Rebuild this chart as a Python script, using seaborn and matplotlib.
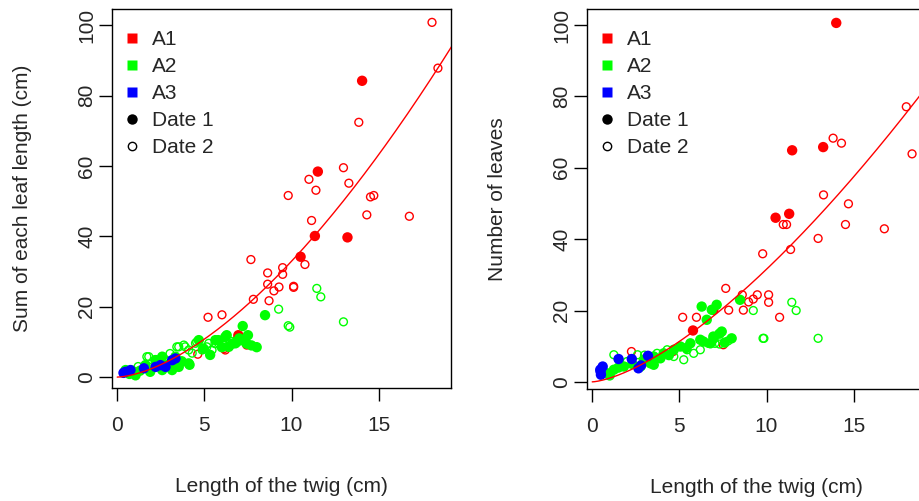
import numpy as np
import pandas as pd
import matplotlib
matplotlib.use("Agg")
import matplotlib.pyplot as plt
import seaborn as sns
from matplotlib.lines import Line2D

sns.set_style("ticks")
plt.rcParams["font.family"] = ["Liberation Sans", "DejaVu Sans"]

PALETTE = {"A1": "#FF0000", "A2": "#00FF00", "A3": "#0000FF"}
X_TICKS = [0, 5, 10, 15]
Y_TICKS = [0, 20, 40, 60, 80, 100]
X_LABEL = "Length of the twig (cm)"
Y_LABEL_LEFT = "Sum of each leaf length (cm)"
Y_LABEL_RIGHT = "Number of leaves"

# fitted power curves y = a * x^b
FIT_LEFT = (0.81, 1.609)
FIT_RIGHT = (1.05, 1.478)

# ---------------- left panel data ----------------
left_A1_d1 = [(14.05, 84.2), (11.51, 58.4), (11.34, 40.1), (13.21, 39.7), (10.52, 34.2), (6.95, 11.9)]
left_A1_d2 = [(18.06, 100.8), (18.4, 87.8), (13.86, 72.4), (12.98, 59.5), (11.0, 56.2), (13.29, 55.1),
              (11.4, 53.1), (9.81, 51.6), (14.53, 51.2), (14.72, 51.6), (14.32, 46.1), (16.76, 45.7),
              (11.15, 44.5), (10.77, 32.0), (7.67, 33.4), (8.63, 29.6), (9.49, 31.1), (9.49, 29.2),
              (8.63, 26.4), (9.28, 25.6), (8.99, 24.5), (10.12, 25.8), (10.12, 25.5), (7.81, 22.1),
              (8.71, 21.7), (5.21, 17.0), (6.01, 17.7), (7.43, 9.1), (6.13, 8.1), (4.62, 6.5), (6.2, 7.7)]
left_A2_d1 = [(0.48, 2.0), (0.7, 0.9), (1.05, 0.5), (1.3, 1.8), (1.62, 3.4), (1.89, 1.5), (2.19, 4.8),
              (2.58, 2.0), (2.58, 5.8), (2.9, 3.5), (3.11, 2.5), (3.15, 2.0), (3.34, 5.8), (3.53, 2.9),
              (3.7, 4.5), (4.1, 3.9), (4.15, 3.5), (4.68, 10.5), (4.95, 8.1), (5.33, 6.3), (5.63, 10.5),
              (5.8, 10.5), (6.0, 8.5), (6.2, 11.4), (6.28, 11.9), (6.4, 8.6), (6.6, 9.5), (6.78, 9.6),
              (6.85, 10.0), (7.0, 11.0), (7.2, 14.5), (7.3, 10.5), (7.43, 9.5), (7.5, 11.9), (7.7, 9.0),
              (8.0, 8.5), (8.48, 17.6)]
left_A2_d2 = [(11.45, 25.2), (11.68, 22.8), (9.26, 19.3), (9.81, 14.6), (9.9, 14.2), (12.98, 15.7),
              (0.86, 2.0), (1.2, 3.0), (1.7, 5.8), (1.81, 2.9), (1.81, 5.8), (2.39, 3.9), (2.2, 5.0),
              (3.03, 6.7), (3.42, 8.6), (3.53, 8.6), (3.82, 9.1), (3.9, 8.6), (4.1, 7.7), (4.49, 9.6),
              (4.56, 10.0), (4.87, 7.7), (5.14, 8.6), (5.25, 9.6), (5.44, 7.7), (5.61, 9.5), (5.82, 9.6),
              (6.1, 9.0), (6.5, 10.2), (6.9, 11.0), (7.1, 10.3), (2.8, 4.5), (4.3, 6.8)]
left_A3_d1 = [(0.36, 1.2), (0.48, 1.5), (0.76, 2.0), (1.53, 2.5), (2.2, 2.9), (2.48, 3.4), (2.77, 2.9),
              (3.15, 4.8), (3.34, 5.3)]

# ---------------- right panel data ----------------
right_A1_d1 = [(14.0, 100.6), (11.47, 64.9), (13.25, 65.8), (10.52, 46.0), (11.3, 47.1), (5.78, 14.4),
               (6.95, 20.2)]
right_A1_d2 = [(13.82, 68.3), (14.3, 66.9), (18.02, 77.1), (18.35, 63.9), (13.27, 52.4), (14.7, 49.9),
               (10.96, 44.1), (11.15, 44.1), (14.53, 44.1), (16.76, 42.9), (12.96, 40.2), (11.38, 37.1),
               (9.78, 35.9), (7.66, 26.2), (8.61, 24.4), (9.47, 24.4), (9.24, 23.2), (8.97, 22.4),
               (10.12, 24.4), (10.12, 22.3), (7.83, 20.1), (8.67, 20.1), (10.75, 18.1), (5.19, 18.1),
               (5.98, 18.1), (2.25, 8.5), (4.64, 8.5), (7.52, 10.4)]
right_A2_d1 = [(8.48, 23.0), (7.14, 21.6), (6.86, 20.2), (6.57, 17.4), (6.28, 21.1), (7.43, 14.1),
               (8.0, 12.2), (6.95, 12.7), (6.38, 11.3), (0.86, 2.4), (1.24, 3.4), (1.82, 4.3), (2.96, 6.2),
               (3.34, 5.2), (3.53, 7.1), (4.1, 8.0), (4.68, 9.0), (5.06, 9.9), (5.63, 10.8), (6.2, 11.8),
               (6.78, 10.8), (6.97, 12.2), (2.77, 4.3), (3.53, 4.8), (3.91, 6.6), (7.3, 13.5), (7.6, 11.0),
               (5.4, 9.5), (4.4, 7.5), (2.3, 5.0), (1.5, 4.0), (0.6, 3.0), (1.0, 1.8)]
right_A2_d2 = [(11.45, 22.3), (11.7, 20.0), (9.24, 20.0), (9.8, 12.2), (9.85, 12.2), (12.96, 12.2),
               (7.04, 10.8), (6.66, 10.8), (1.24, 7.6), (2.0, 5.7), (3.72, 8.0), (4.3, 9.0), (5.25, 6.2),
               (5.44, 9.0), (5.82, 8.0), (4.68, 7.1), (6.2, 9.0), (7.3, 10.6), (7.8, 11.5), (3.0, 7.5),
               (2.6, 7.6), (1.6, 4.5)]
right_A3_d1 = [(0.46, 3.4), (0.6, 4.3), (0.5, 2.0), (0.48, 2.9), (1.51, 6.4), (2.27, 6.4), (2.65, 3.8),
               (3.2, 7.3), (2.8, 4.6)]


def make_df(parts):
    rows = []
    for grp, date, pts in parts:
        for x, y in pts:
            rows.append((x, y, grp, date))
    return pd.DataFrame(rows, columns=["twig", "value", "group", "date"])


left_df = make_df([("A1", "Date 2", left_A1_d2), ("A2", "Date 2", left_A2_d2),
                   ("A1", "Date 1", left_A1_d1), ("A2", "Date 1", left_A2_d1),
                   ("A3", "Date 1", left_A3_d1)])
right_df = make_df([("A1", "Date 2", right_A1_d2), ("A2", "Date 2", right_A2_d2),
                    ("A1", "Date 1", right_A1_d1), ("A2", "Date 1", right_A2_d1),
                    ("A3", "Date 1", right_A3_d1)])

W, H = 919, 501
fig = plt.figure(figsize=(W / 100, H / 100), dpi=100)
ax1 = fig.add_axes([112 / W, 113 / H, 339 / W, 379 / H])
ax2 = fig.add_axes([587 / W, 112 / H, 339 / W, 380 / H])


def draw(ax, df, fit, ylim, ylabel):
    for grp in ["A1", "A2", "A3"]:
        sub = df[(df.group == grp) & (df.date == "Date 2")]
        if len(sub):
            sns.scatterplot(data=sub, x="twig", y="value", hue="group", palette=PALETTE,
                            s=32, linewidth=0, ax=ax, legend=False, zorder=3)
            coll = ax.collections[-1]
            fc = coll.get_facecolors()
            coll.set_edgecolors(fc)
            coll.set_facecolors("none")
            coll.set_linewidths(1.0)
    for grp in ["A1", "A2", "A3"]:
        sub = df[(df.group == grp) & (df.date == "Date 1")]
        if len(sub):
            sns.scatterplot(data=sub, x="twig", y="value", hue="group", palette=PALETTE,
                            s=56, linewidth=0, ax=ax, legend=False, zorder=4)
    a, b = fit
    xs = np.linspace(0, 20, 300)
    sns.lineplot(x=xs, y=a * xs ** b, color="#FF0000", lw=1.0, ax=ax, zorder=5)

    ax.set_xlim(-0.30, 19.15)
    ax.set_ylim(*ylim)
    ax.set_xticks(X_TICKS)
    ax.set_yticks(Y_TICKS)
    ax.tick_params(axis="both", direction="out", length=9.2, width=1.0, labelsize=15, color="black")
    ax.tick_params(axis="x", pad=11)
    ax.tick_params(axis="y", pad=2, labelrotation=90)
    for t in ax.get_yticklabels():
        t.set_va("center")
    for sp in ax.spines.values():
        sp.set_linewidth(1.0)
        sp.set_color("black")
    ax.set_xlabel(X_LABEL, fontsize=15, va="center")
    ax.set_ylabel(ylabel, fontsize=15, va="center")
    ax.xaxis.set_label_coords(0.5, -0.259)
    ax.yaxis.set_label_coords(-0.265, 0.5)

    handles = [
        Line2D([], [], ls="", marker="s", ms=7.5, color=PALETTE["A1"], mec="none"),
        Line2D([], [], ls="", marker="s", ms=7.5, color=PALETTE["A2"], mec="none"),
        Line2D([], [], ls="", marker="s", ms=7.5, color=PALETTE["A3"], mec="none"),
        Line2D([], [], ls="", marker="o", ms=7.5, color="black", mec="none"),
        Line2D([], [], ls="", marker="o", ms=6, mfc="none", mec="black", mew=1.0),
    ]
    ax.legend(handles, ["A1", "A2", "A3", "Date 1", "Date 2"], loc="upper left",
              bbox_to_anchor=(0.028, 0.945), borderaxespad=0, borderpad=0, frameon=False,
              fontsize=15, handlelength=1.0, handletextpad=0.46, labelspacing=0.39)


draw(ax1, left_df, FIT_LEFT, (-3.1, 104.6), Y_LABEL_LEFT)
draw(ax2, right_df, FIT_RIGHT, (-2.0, 104.5), Y_LABEL_RIGHT)

fig.savefig("out.png", dpi=100)
